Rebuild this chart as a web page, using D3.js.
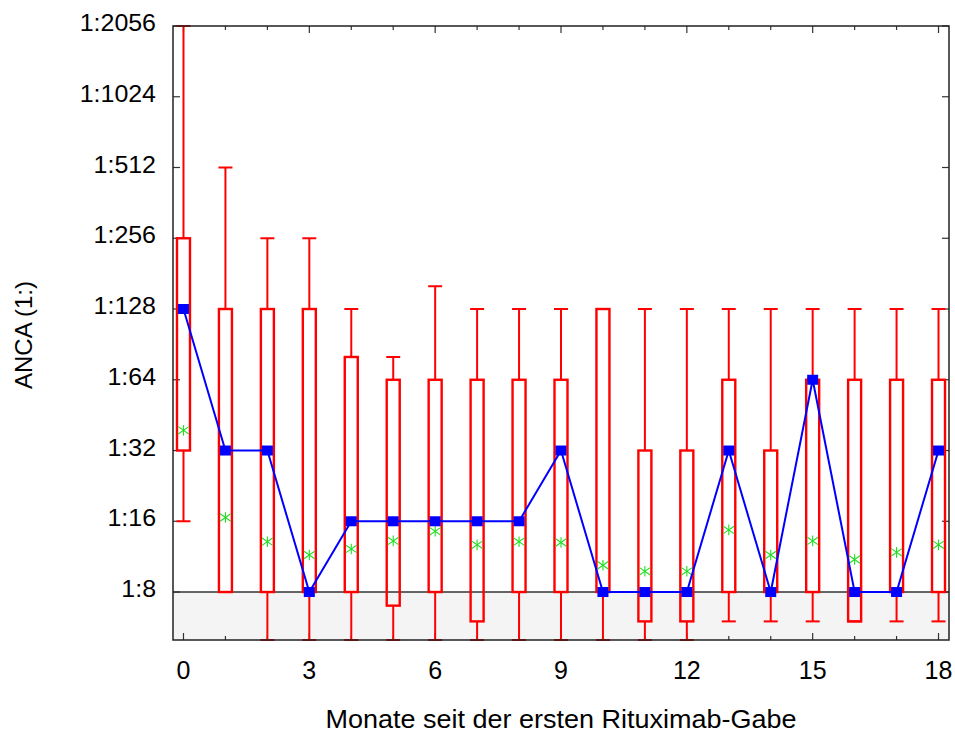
<!DOCTYPE html>
<html>
<head>
<meta charset="utf-8">
<script src="https://cdn.jsdelivr.net/npm/d3@7"></script>
<style>
  html, body { margin: 0; padding: 0; background: #fff; }
  text { font-family: "Liberation Sans", Arial, Helvetica, sans-serif; fill: #000; }
</style>
</head>
<body>
<svg id="chart" width="955" height="734"></svg>
<script>
// ---- data ----
const months      = [0, 1, 2, 3, 4, 5, 6, 7, 8, 9, 10, 11, 12, 13, 14, 15, 16, 17, 18];
const whiskerHigh = [2048, 512, 256, 256, 128, 80, 160, 128, 128, 128, 128, 128, 128, 128, 128, 128, 128, 128, 128];
const boxHigh     = [256, 128, 128, 128, 80, 64, 64, 64, 64, 64, 128, 32, 32, 64, 32, 64, 64, 64, 64];
const medians     = [128, 32, 32, 8, 16, 16, 16, 16, 16, 32, 8, 8, 8, 32, 8, 64, 8, 8, 32];
const boxLow      = [32, 8, 8, 8, 8, 7, 8, 6, 8, 8, 8, 6, 6, 8, 8, 8, 6, 8, 8];
const whiskerLow  = [16, 8, 5, 5, 5, 5, 5, 5, 5, 5, 5, 5, 5, 6, 6, 6, 6, 6, 6];
const means       = [39, 16.6, 13.1, 11.5, 12.2, 13.2, 14.5, 12.7, 13.1, 13.0, 10.4, 9.8, 9.8, 14.7, 11.5, 13.2, 11.0, 11.8, 12.7];

const yTickValues = [8, 16, 32, 64, 128, 256, 512, 1024, 2048];
const yTickLabels = ["1:8", "1:16", "1:32", "1:64", "1:128", "1:256", "1:512", "1:1024", "1:2056"];
const xTickValues = [0, 3, 6, 9, 12, 15, 18];
const detectionLimit = 8;

const xTitle = "Monate seit der ersten Rituximab-Gabe";
const yTitle = "ANCA (1:)";

(function () {
// ---- layout ----
const pL = 173, pR = 949, pT = 26, pB = 640;
const svg = d3.select("#chart");

const x = d3.scaleLinear().domain([-0.25, 18.25]).range([pL, pR]);
const y = d3.scaleLog().base(2).domain([5, 2048]).range([pB, pT]);

const rows = months.map((m, i) => ({
  m, wh: whiskerHigh[i], bh: boxHigh[i], med: medians[i], bl: boxLow[i], wl: whiskerLow[i], mean: means[i]
}));

// gray band below detection limit
svg.append("rect")
  .attr("x", pL).attr("y", y(detectionLimit))
  .attr("width", pR - pL).attr("height", pB - y(detectionLimit))
  .attr("fill", "#f4f4f4");
svg.append("line")
  .attr("x1", pL).attr("x2", pR)
  .attr("y1", y(detectionLimit)).attr("y2", y(detectionLimit))
  .attr("stroke", "#333").attr("stroke-width", 1.5);

// ticks (inside, all sides)
const tickG = svg.append("g").attr("stroke", "#333").attr("stroke-width", 1.2);
yTickValues.forEach(v => {
  tickG.append("line").attr("x1", pL).attr("x2", pL + 7).attr("y1", y(v)).attr("y2", y(v));
  tickG.append("line").attr("x1", pR).attr("x2", pR - 7).attr("y1", y(v)).attr("y2", y(v));
});
months.forEach(m => {
  const len = (m % 3 === 0) ? 7 : 4;
  tickG.append("line").attr("x1", x(m)).attr("x2", x(m)).attr("y1", pT).attr("y2", pT + len);
  tickG.append("line").attr("x1", x(m)).attr("x2", x(m)).attr("y1", pB).attr("y2", pB - len);
});

// boxes and whiskers
const red = "#ff0000";
const bw = 6.5, cw = 7;
const bx = svg.append("g").attr("stroke", red).attr("fill", "none");
rows.forEach(d => {
  const cx = x(d.m);
  bx.append("line").attr("x1", cx).attr("x2", cx).attr("y1", y(d.bh)).attr("y2", y(d.wh)).attr("stroke-width", 2);
  bx.append("line").attr("x1", cx - cw).attr("x2", cx + cw).attr("y1", y(d.wh)).attr("y2", y(d.wh)).attr("stroke-width", 2);
  bx.append("line").attr("x1", cx).attr("x2", cx).attr("y1", y(d.bl)).attr("y2", y(d.wl)).attr("stroke-width", 2);
  bx.append("line").attr("x1", cx - cw).attr("x2", cx + cw).attr("y1", y(d.wl)).attr("y2", y(d.wl)).attr("stroke-width", 2);
  bx.append("rect")
    .attr("x", cx - bw).attr("width", 2 * bw)
    .attr("y", y(d.bh)).attr("height", y(d.bl) - y(d.bh))
    .attr("fill", "none").attr("stroke-width", 2.4);
});

// mean markers (asterisks)
const green = "#22dd22";
const mg = svg.append("g").attr("stroke", green).attr("stroke-width", 1.1);
const s = 5.3;
rows.forEach(d => {
  const cx = x(d.m), cy = y(d.mean);
  mg.append("line").attr("x1", cx).attr("x2", cx).attr("y1", cy - s).attr("y2", cy + s);
  mg.append("line").attr("x1", cx - s).attr("x2", cx + s).attr("y1", cy - s * 0.7).attr("y2", cy + s * 0.7);
  mg.append("line").attr("x1", cx - s).attr("x2", cx + s).attr("y1", cy + s * 0.7).attr("y2", cy - s * 0.7);
});

// median line + squares
const blue = "#0000ff";
svg.append("path")
  .datum(rows)
  .attr("fill", "none").attr("stroke", blue).attr("stroke-width", 2)
  .attr("d", d3.line().x(d => x(d.m)).y(d => y(d.med)));
svg.append("g").selectAll("rect").data(rows).join("rect")
  .attr("x", d => x(d.m) - 5.5).attr("y", d => y(d.med) - 5)
  .attr("width", 11).attr("height", 10).attr("fill", blue);

// frame
svg.append("rect")
  .attr("x", pL).attr("y", pT).attr("width", pR - pL).attr("height", pB - pT)
  .attr("fill", "none").attr("stroke", "#222").attr("stroke-width", 1.5);

// y tick labels
yTickValues.forEach((v, i) => {
  svg.append("text")
    .attr("transform", `translate(156, ${y(v) + 5}) scale(1.04, 1)`)
    .attr("text-anchor", "end").attr("font-size", 24)
    .text(yTickLabels[i]);
});
// x tick labels
xTickValues.forEach(v => {
  svg.append("text")
    .attr("x", x(v)).attr("y", 679)
    .attr("text-anchor", "middle").attr("font-size", 25)
    .text(v);
});
// axis titles
svg.append("text")
  .attr("transform", `translate(${(pL + pR) / 2}, 728) scale(1.08, 1)`)
  .attr("text-anchor", "middle").attr("font-size", 25)
  .text(xTitle);
svg.append("text")
  .attr("transform", `translate(32, ${(pT + pB) / 2 + 2}) rotate(-90)`)
  .attr("text-anchor", "middle").attr("font-size", 24)
  .text(yTitle);
})();
</script>
</body>
</html>
